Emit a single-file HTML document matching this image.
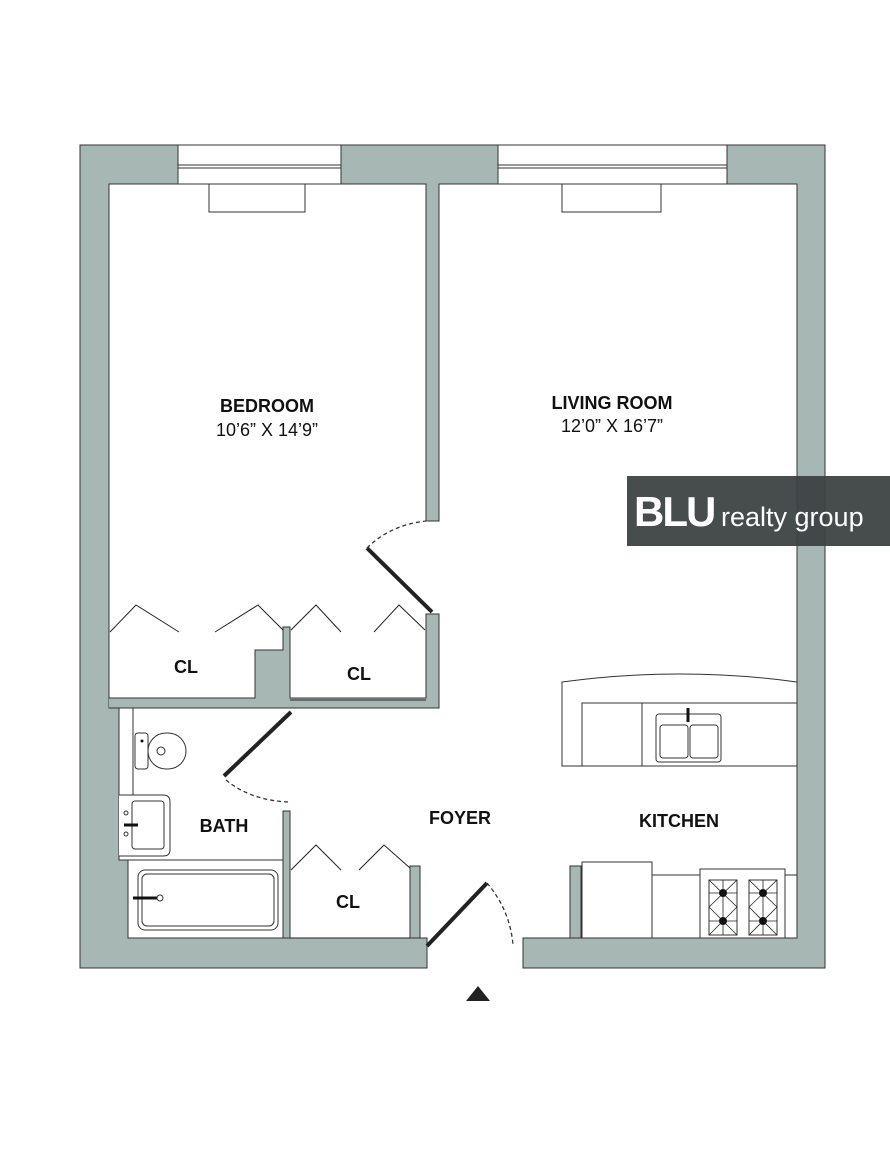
<!DOCTYPE html>
<html><head><meta charset="utf-8"><style>
html,body{margin:0;padding:0;background:#fff;}
svg{display:block;}
text{font-family:"Liberation Sans",sans-serif;fill:#111;}
</style></head><body>
<svg width="890" height="1152" viewBox="0 0 890 1152" xmlns="http://www.w3.org/2000/svg">
<g fill="#a7b8b4" stroke="#333" stroke-width="1">
<path d="M80,145 H178 V184 H109 V708 H119 V860 H128 V938 H420 V866 H410 V938 H427 V968 H80 Z"/>
<path d="M341,145 H498 V184 H439 V521 H426 V184 H341 Z"/>
<path d="M727,145 H825 V968 H523 V938 H797 V184 H727 Z"/>
<path d="M109,698 H255 V650 H283 V627 H290 V698 H426 V614 H439 V708 H109" stroke-linejoin="miter"/>
<rect x="283" y="811" width="7" height="127"/>
<rect x="570" y="866" width="11" height="72"/>
</g>
<rect x="82" y="699" width="26" height="8" fill="#a7b8b4"/>
<g fill="#fff" stroke="#333" stroke-width="1">
<rect x="178" y="145" width="163" height="39"/>
<rect x="498" y="145" width="229" height="39"/>
<line x1="178" y1="165" x2="341" y2="165"/><line x1="178" y1="168" x2="341" y2="168"/>
<line x1="498" y1="165" x2="727" y2="165"/><line x1="498" y1="168" x2="727" y2="168"/>
<rect x="209" y="184" width="96" height="28"/>
<rect x="562" y="184" width="99" height="28"/>
</g>
<g fill="none" stroke="#222" stroke-width="1">
<polyline points="110,632 136,605 179,632"/>
<polyline points="215,632 258,605 283,630"/>
<polyline points="291,630 316,605 341,632"/>
<polyline points="374,632 399,605 425,630"/>
<polyline points="291,870 316,845 341,870"/>
<polyline points="359,870 384,845 410,868"/>
<line x1="290" y1="700" x2="426" y2="700"/>
<line x1="290" y1="938" x2="410" y2="938"/>
</g>
<g stroke="#222" stroke-width="4" fill="none">
<line x1="367" y1="548" x2="432" y2="612"/>
<line x1="224" y1="776" x2="291" y2="712"/>
<line x1="427" y1="946" x2="487" y2="883"/>
</g>
<g stroke="#333" stroke-width="1.3" fill="none" stroke-dasharray="4,3">
<path d="M367,548 Q390,525 426,521"/>
<path d="M226,780 Q250,800 288,802"/>
<path d="M487,883 Q510,910 513,945"/>
</g>
<g fill="#fff" stroke="#333" stroke-width="1">
<line x1="133" y1="708" x2="133" y2="795"/>
<path d="M119,795 H163 Q170,795 170,802 V850 Q170,856 163,856 H119"/>
<rect x="132" y="801" width="32" height="48" rx="3"/>
<line x1="119" y1="860" x2="283" y2="860"/>
<rect x="138" y="870" width="140" height="60" rx="7"/>
<rect x="142" y="874" width="132" height="52" rx="5"/>
<rect x="135" y="733" width="13" height="36" rx="3"/>
<rect x="148" y="733" width="38" height="36" rx="18"/>
<circle cx="161" cy="751" r="4"/>
<circle cx="126" cy="813" r="2"/><circle cx="126" cy="834" r="2"/>
</g>
<line x1="124" y1="825" x2="138" y2="825" stroke="#111" stroke-width="3"/>
<line x1="133" y1="898" x2="158" y2="898" stroke="#111" stroke-width="3"/>
<circle cx="160" cy="898" r="3" fill="#fff" stroke="#333"/>
<circle cx="142" cy="741" r="1.5" fill="#111"/>
<g fill="#fff" stroke="#333" stroke-width="1">
<path d="M562,766 V682 Q680,666 797,682 V766 Z"/>
<line x1="582" y1="703" x2="797" y2="703"/>
<rect x="582" y="703" width="60" height="63"/>
<rect x="656" y="714" width="65" height="48" rx="3"/>
<rect x="660" y="725" width="28" height="33" rx="3"/>
<rect x="690" y="725" width="28" height="33" rx="3"/>
<line x1="581" y1="875" x2="797" y2="875"/>
<rect x="582" y="862" width="70" height="76"/>
<rect x="700" y="869" width="85" height="69"/>
<rect x="709" y="880" width="28" height="55"/>
<rect x="749" y="880" width="28" height="55"/>
</g>
<line x1="688" y1="708" x2="688" y2="722" stroke="#111" stroke-width="3"/>
<g stroke="#222" stroke-width="0.8">
<line x1="709" y1="880" x2="737" y2="907"/><line x1="737" y1="880" x2="709" y2="907"/>
<line x1="709" y1="907" x2="737" y2="935"/><line x1="737" y1="907" x2="709" y2="935"/>
<line x1="749" y1="880" x2="777" y2="907"/><line x1="777" y1="880" x2="749" y2="907"/>
<line x1="749" y1="907" x2="777" y2="935"/><line x1="777" y1="907" x2="749" y2="935"/>
<line x1="723" y1="880" x2="723" y2="935"/><line x1="763" y1="880" x2="763" y2="935"/>
<line x1="709" y1="893" x2="737" y2="893"/><line x1="709" y1="921" x2="737" y2="921"/>
<line x1="749" y1="893" x2="777" y2="893"/><line x1="749" y1="921" x2="777" y2="921"/>
</g>
<g fill="#111"><circle cx="723" cy="893" r="4"/><circle cx="763" cy="893" r="4"/><circle cx="723" cy="921" r="4"/><circle cx="763" cy="921" r="4"/></g>
<g text-anchor="middle" font-size="18">
<text x="267" y="412" font-weight="bold">BEDROOM</text>
<text x="267" y="436">10’6” X 14’9”</text>
<text x="612" y="409" font-weight="bold">LIVING ROOM</text>
<text x="612" y="432">12’0” X 16’7”</text>
<text x="186" y="673" font-weight="bold">CL</text>
<text x="359" y="680" font-weight="bold">CL</text>
<text x="348" y="908" font-weight="bold">CL</text>
<text x="224" y="832" font-weight="bold">BATH</text>
<text x="460" y="824" font-weight="bold">FOYER</text>
<text x="679" y="827" font-weight="bold">KITCHEN</text>
</g>
<polygon points="466,1001 478,986 490,1001" fill="#222"/>
<rect x="627" y="476" width="263" height="70" fill="#3c4142" opacity="0.94"/>
<text x="634" y="526" font-size="42" font-weight="bold" style="fill:#fff;letter-spacing:-2px">BLU</text>
<text x="721" y="526" font-size="27" style="fill:#fff">realty group</text>
</svg>
</body></html>
